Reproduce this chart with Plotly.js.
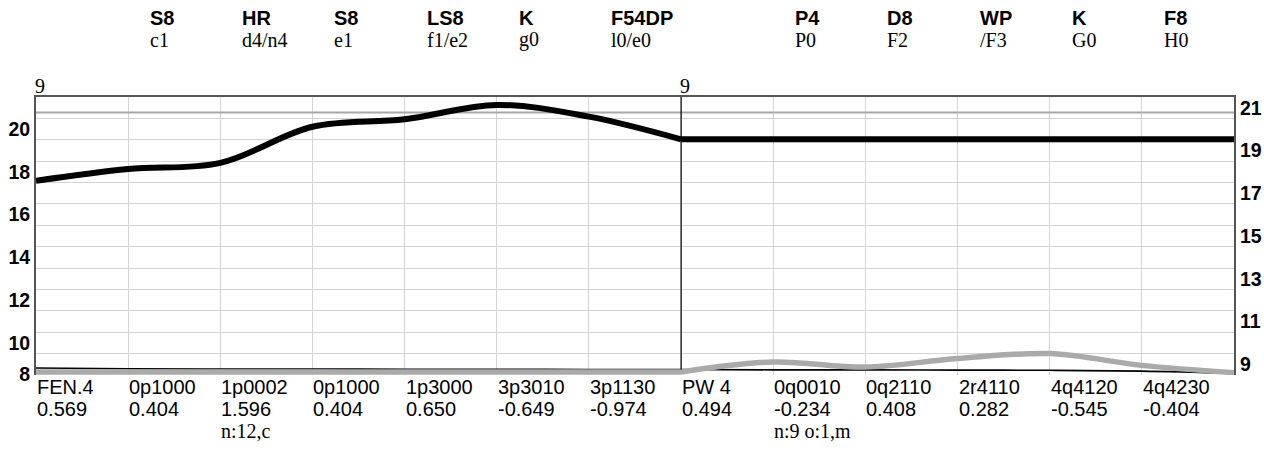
<!DOCTYPE html>
<html>
<head>
<meta charset="utf-8">
<script src="https://cdn.plot.ly/plotly-3.0.1.min.js"></script>
<style>html,body{margin:0;padding:0;background:#fff;}#chart{width:1264px;height:452px;}</style>
</head>
<body>
<div id="chart"></div>
<script>
// ---- data ----
var positions = [0,1,2,3,4,5,6,7,8,9,10,11,12,13];
var codes = ["FEN.4","0p1000","1p0002","0p1000","1p3000","3p3010","3p1130","PW 4","0q0010","0q2110","2r4110","4q4120","4q4230"];
var codeValues = ["0.569","0.404","1.596","0.404","0.650","-0.649","-0.974","0.494","-0.234","0.408","0.282","-0.545","-0.404"];
var notePositions = [2, 8];
var notes = ["n:12,c", "n:9 o:1,m"];
var headerPositions = [1,2,3,4,5,6,8,9,10,11,12];
var headerCodes = ["S8","HR","S8","LS8","K","F54DP","P4","D8","WP","K","F8"];
var headerSub = ["c1","d4/n4","e1","f1/e2","g0","l0/e0","P0","F2","/F3","G0","H0"];
var sectionStarts = [0, 7];
var sectionLabels = ["9", "9"];
var blackSeries = [17.58,18.13,18.42,20.11,20.46,21.13,20.58,19.52,19.52,19.52,19.52,19.52,19.52,19.52];
var graySeries  = [8.64,8.64,8.64,8.64,8.64,8.64,8.64,8.64,9.11,8.87,9.27,9.50,8.95,8.61];
var thinSeries  = [8.83,8.79,8.78,8.78,8.77,8.77,8.76,8.76,8.74,8.74,8.73,8.72,8.68,8.58];
var refSeries   = [20.78,20.78,20.78,20.78,20.78,20.78,20.78,20.78,20.78,20.78,20.78,20.78,20.78,20.78];
var leftTickVals = [8.56,10,12,14,16,18,20];
var leftTickText = ["8","10","12","14","16","18","20"];
var rightTickVals = [9,11,13,15,17,19,21];
var gridVals = [9.5,10.5,11.5,12.5,13.5,14.5,15.5,16.5,17.5,18.5,19.5,20.5];
var yRange = [8.5, 21.5];

var SANS = "Liberation Sans, Arial, sans-serif";
var SERIF = "Liberation Serif, Times New Roman, serif";

// split a series into its sections
function sectionTraces(series, line) {
  var out = [];
  for (var s = 0; s < sectionStarts.length; s++) {
    var a = sectionStarts[s];
    var b = (s + 1 < sectionStarts.length) ? sectionStarts[s + 1] : positions.length - 1;
    out.push({x: positions.slice(a, b + 1), y: series.slice(a, b + 1), mode: "lines", line: line, hoverinfo: "skip"});
  }
  return out;
}

var traces = [];
traces.push({x: positions, y: refSeries, mode: "lines", line: {color: "#a8a8a8", width: 2}, hoverinfo: "skip"});
traces = traces.concat(sectionTraces(thinSeries, {color: "#000", width: 1.6, shape: "spline"}));
traces = traces.concat(sectionTraces(graySeries, {color: "#aaaaaa", width: 5.5, shape: "spline"}));
traces = traces.concat(sectionTraces(blackSeries, {color: "#000", width: 6, shape: "spline"}));
traces.push({x: positions, y: blackSeries, yaxis: "y2", mode: "lines", line: {width: 0}, opacity: 0, hoverinfo: "skip"});

var annotations = [];
function py(px) { return (375 - px) / 278; }
for (var i = 0; i < codes.length; i++) {
  annotations.push({x: positions[i], y: py(387), xref: "x", yref: "paper", text: codes[i], showarrow: false,
    xanchor: "left", yanchor: "middle", xshift: -1, font: {family: SANS, size: 20, color: "#000"}});
  annotations.push({x: positions[i], y: py(409), xref: "x", yref: "paper", text: codeValues[i], showarrow: false,
    xanchor: "left", yanchor: "middle", xshift: -1, font: {family: SANS, size: 20, color: "#000"}});
}
for (var j = 0; j < notes.length; j++) {
  annotations.push({x: notePositions[j], y: py(431), xref: "x", yref: "paper", text: notes[j], showarrow: false,
    xanchor: "left", yanchor: "middle", xshift: -1, font: {family: SERIF, size: 20, color: "#000"}});
}
for (var k = 0; k < headerCodes.length; k++) {
  annotations.push({x: headerPositions[k], y: py(18), xref: "x", yref: "paper", text: headerCodes[k], showarrow: false,
    xanchor: "left", yanchor: "middle", xshift: 20, font: {family: SANS, size: 20, color: "#000", weight: "bold"}});
  annotations.push({x: headerPositions[k], y: py(40), xref: "x", yref: "paper", text: headerSub[k], showarrow: false,
    xanchor: "left", yanchor: "middle", xshift: 20, font: {family: SERIF, size: 20, color: "#000"}});
}
for (var s = 0; s < sectionStarts.length; s++) {
  annotations.push({x: sectionStarts[s], y: py(86), xref: "x", yref: "paper", text: sectionLabels[s], showarrow: false,
    xanchor: "left", yanchor: "middle", xshift: -3, font: {family: SERIF, size: 20, color: "#000"}});
}

var shapes = [];
for (var t = 1; t < sectionStarts.length; t++) {
  shapes.push({type: "line", xref: "x", yref: "y", x0: sectionStarts[t], x1: sectionStarts[t],
    y0: thinSeries[sectionStarts[t]], y1: yRange[1], line: {color: "#000", width: 1.2}});
}

var layout = {
  width: 1264, height: 452,
  margin: {l: 36, r: 30, t: 97, b: 77, pad: 0},
  paper_bgcolor: "#fff", plot_bgcolor: "#fff",
  showlegend: false,
  xaxis: {range: [0, 13], side: "top", showline: true, linecolor: "#555", linewidth: 2,
    tickvals: positions, showticklabels: false, ticks: "", showgrid: true, gridcolor: "#d4d4d4", gridwidth: 1,
    zeroline: false, fixedrange: true},
  yaxis: {range: yRange, tickmode: "array", tickvals: leftTickVals, ticktext: leftTickText, ticks: "",
    showgrid: false, zeroline: false, showline: true, linecolor: "#555", linewidth: 2,
    tickfont: {family: SANS, size: 19.5, color: "#000", weight: "bold"},
    minor: {tickmode: "array", tickvals: gridVals, showgrid: true, gridcolor: "#d4d4d4", gridwidth: 1, ticks: ""},
    fixedrange: true},
  yaxis2: {range: yRange, overlaying: "y", side: "right", tickmode: "array", tickvals: rightTickVals, ticks: "",
    showgrid: false, zeroline: false, showline: true, linecolor: "#555", linewidth: 2,
    tickfont: {family: SANS, size: 19.5, color: "#000", weight: "bold"}, fixedrange: true},
  annotations: annotations,
  shapes: shapes
};

Plotly.newPlot("chart", traces, layout, {displayModeBar: false, staticPlot: true});
</script>
</body>
</html>
